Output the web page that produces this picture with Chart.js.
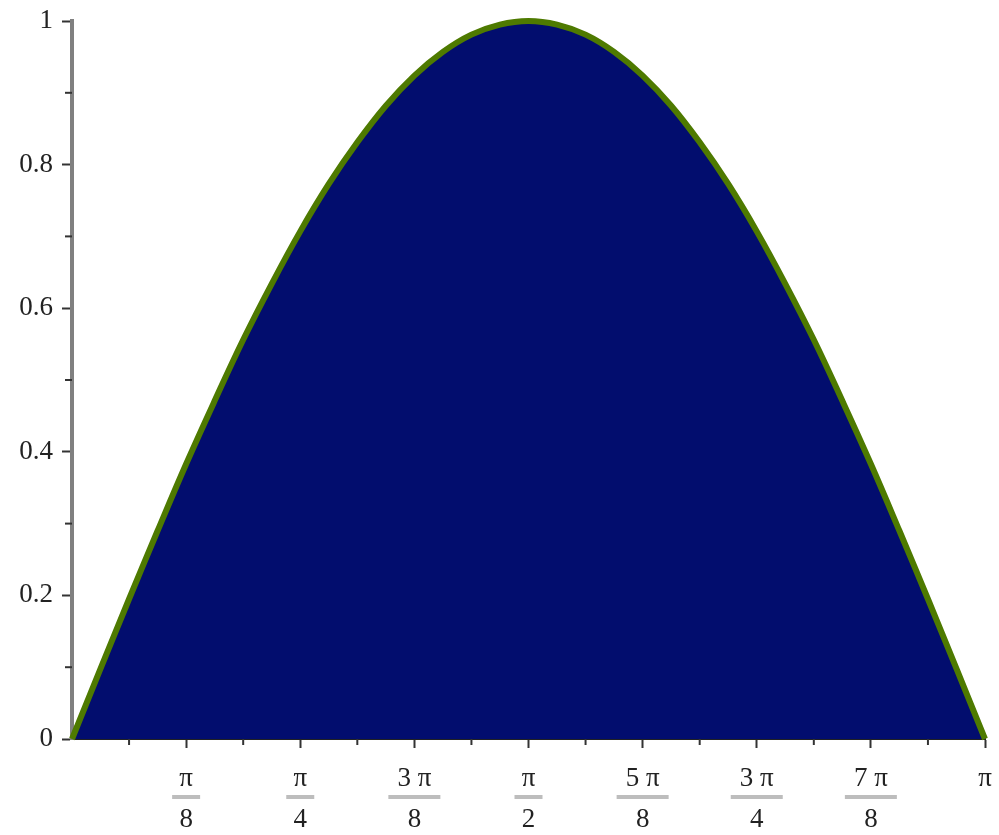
<!DOCTYPE html>
<html>
<head>
<meta charset="utf-8">
<script src="https://cdn.jsdelivr.net/npm/chart.js@4"></script>
<style>
  body { margin: 0; background: #fff; }
  #wrap { width: 999px; height: 835px; position: relative; }
</style>
</head>
<body>
<div id="wrap"><canvas id="chart"></canvas></div>
<script>
// x positions in multiples of pi, y values
const xPi = [0, 0.03125, 0.0625, 0.09375, 0.125, 0.15625, 0.1875, 0.21875, 0.25,
  0.28125, 0.3125, 0.34375, 0.375, 0.40625, 0.4375, 0.46875, 0.5,
  0.53125, 0.5625, 0.59375, 0.625, 0.65625, 0.6875, 0.71875, 0.75,
  0.78125, 0.8125, 0.84375, 0.875, 0.90625, 0.9375, 0.96875, 1];
const yVals = [0, 0.098, 0.195, 0.290, 0.383, 0.471, 0.556, 0.634, 0.707,
  0.773, 0.831, 0.882, 0.924, 0.957, 0.981, 0.995, 1.0,
  0.995, 0.981, 0.957, 0.924, 0.882, 0.831, 0.773, 0.707,
  0.634, 0.556, 0.471, 0.383, 0.290, 0.195, 0.098, 0];

// tick labels
const xTickPos = [0.125, 0.25, 0.375, 0.5, 0.625, 0.75, 0.875, 1];
const xTickNum = ['π', 'π', '3 π', 'π', '5 π', '3 π', '7 π', 'π'];
const xTickDen = ['8', '4', '8', '2', '8', '4', '8', ''];
const xMinorPos = [0.0625, 0.1875, 0.3125, 0.4375, 0.5625, 0.6875, 0.8125, 0.9375];
const yTickPos = [0, 0.2, 0.4, 0.6, 0.8, 1];
const yTickLabels = ['0', '0.2', '0.4', '0.6', '0.8', '1'];
const yMinorPos = [0.1, 0.3, 0.5, 0.7, 0.9];

const FONT = '"Liberation Serif", "DejaVu Serif", serif';

const axisExtras = {
    id: 'axisExtras',
    afterDraw(chart) {
        const ctx = chart.ctx;
        const x = chart.scales.x;
        const y = chart.scales.y;
        const area = chart.chartArea;
        ctx.save();

        // minor ticks
        ctx.strokeStyle = '#333';
        ctx.lineWidth = 2;
        xMinorPos.forEach(v => {
            const px = x.getPixelForValue(v);
            ctx.beginPath();
            ctx.moveTo(px, area.bottom);
            ctx.lineTo(px, area.bottom + 6);
            ctx.stroke();
        });
        yMinorPos.forEach(v => {
            const py = y.getPixelForValue(v);
            ctx.beginPath();
            ctx.moveTo(area.left - 7, py);
            ctx.lineTo(area.left, py);
            ctx.stroke();
        });

        // fraction labels on x
        ctx.font = '27px ' + FONT;
        ctx.fillStyle = '#222';
        ctx.textAlign = 'center';
        ctx.textBaseline = 'middle';
        xTickPos.forEach((v, i) => {
            const px = x.getPixelForValue(v);
            const num = xTickNum[i];
            const den = xTickDen[i];
            ctx.fillText(num, px, 779);
            if (!den) return;
            const w = num.length > 1 ? 52 : 28;
            ctx.fillStyle = '#bdbdbd';
            ctx.fillRect(px - w / 2, 795, w, 4);
            ctx.fillStyle = '#222';
            ctx.fillText(den, px, 820);
        });
        ctx.restore();
    }
};

new Chart(document.getElementById('chart'), {
    type: 'line',
    data: {
        datasets: [{
            data: xPi.map((v, i) => ({ x: v, y: yVals[i] })),
            borderColor: '#4e7a00',
            backgroundColor: '#020d6e',
            borderWidth: 6,
            fill: 'origin',
            pointRadius: 0,
            tension: 0.4,
            clip: 8
        }]
    },
    options: {
        responsive: true,
        maintainAspectRatio: false,
        animation: false,
        layout: { padding: { top: 21, right: 14, left: 0, bottom: 0 } },
        plugins: { legend: { display: false }, tooltip: { enabled: false } },
        scales: {
            x: {
                type: 'linear',
                min: 0,
                max: 1,
                afterBuildTicks: s => { s.ticks = xTickPos.map(v => ({ value: v })); },
                afterFit: s => { s.height = 96; },
                ticks: { display: false },
                grid: { drawOnChartArea: false, tickLength: 9, tickWidth: 2, tickColor: '#333' },
                border: { color: '#222', width: 2 }
            },
            y: {
                min: 0,
                max: 1,
                afterBuildTicks: s => { s.ticks = yTickPos.map(v => ({ value: v })); },
                afterFit: s => { s.width = 72; s.paddingTop = 0; s.paddingBottom = 0; },
                ticks: {
                    callback: (v, i) => yTickLabels[i],
                    font: { family: FONT, size: 27 },
                    color: '#222',
                    padding: 9
                },
                grid: { drawOnChartArea: false, tickLength: 10, tickWidth: 2, tickColor: '#333' },
                border: { color: '#808080', width: 4 }
            }
        }
    },
    plugins: [axisExtras]
});
</script>
</body>
</html>
